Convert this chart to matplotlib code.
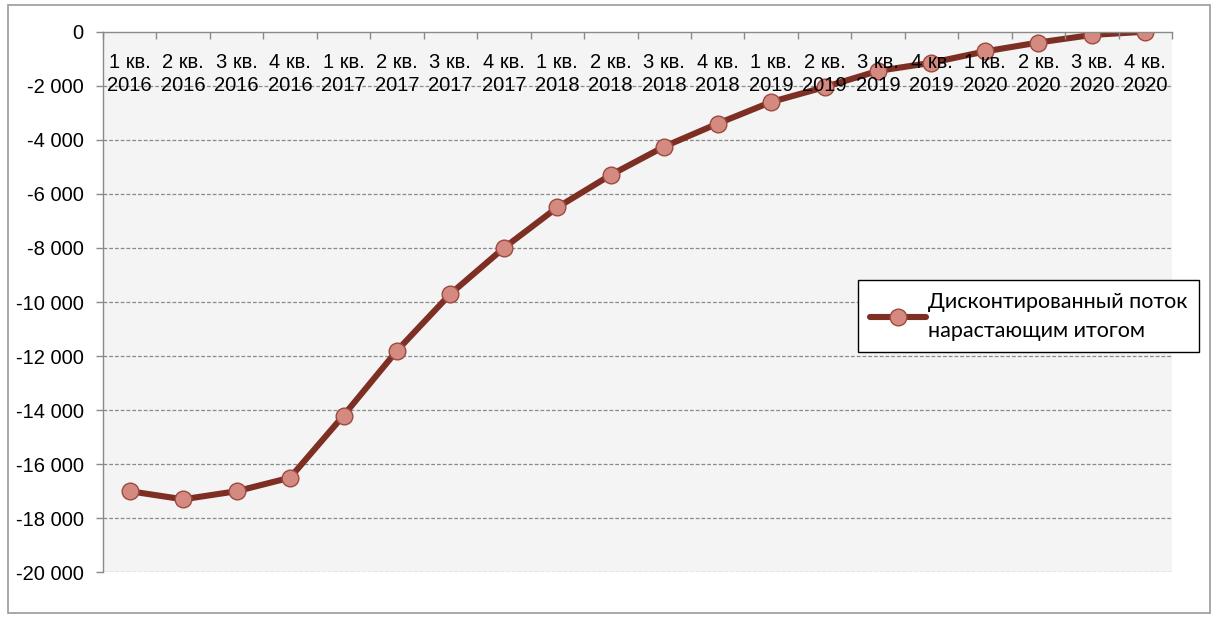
import matplotlib
matplotlib.use("Agg")
import matplotlib.pyplot as plt
from matplotlib.ticker import FuncFormatter, MultipleLocator, FixedLocator
from matplotlib.patches import Rectangle

quarters = ["1 кв.", "2 кв.", "3 кв.", "4 кв."]
years = ["2016", "2017", "2018", "2019", "2020"]
categories = [f"{q}\n{y}" for y in years for q in quarters]

cumulative_dcf = [
    -17000, -17300, -17000, -16500,
    -14200, -11800, -9700, -8000,
    -6500, -5300, -4250, -3400,
    -2600, -2050, -1450, -1150,
    -730, -400, -120, 0,
]
series_name = "Дисконтированный поток\nнарастающим итогом"

plt.rcParams["font.family"] = ["Liberation Sans", "DejaVu Sans"]

W, H = 1216, 617
fig = plt.figure(figsize=(W / 100, H / 100), dpi=100)
fig.patch.set_facecolor("white")

# outer chart frame
fig.patches.append(Rectangle((8 / W, 1 - 613 / H), (1210 - 8) / W, (613 - 5) / H,
                             transform=fig.transFigure, fill=False,
                             edgecolor="#9a9a9a", linewidth=1.2))

ax = fig.add_axes([103 / W, 1 - 572.3 / H, (1172 - 103) / W, (572.3 - 31.7) / H])
ax.set_facecolor("#f4f4f4")
ax.set_axisbelow(False)  # axis (and its labels) drawn above the series

x = list(range(len(categories)))
# series sits above the gridlines but below the category labels
line, = ax.plot(x, cumulative_dcf, color="#7e2f24", linewidth=4.4,
                marker="o", markersize=12, markerfacecolor="#d48a80",
                markeredgecolor="#9c4a40", markeredgewidth=1.0,
                solid_capstyle="round", zorder=2.2)

ax.set_xlim(-0.5, len(categories) - 0.5)
ax.set_ylim(-20000, 0)

# y axis
ax.yaxis.set_major_locator(MultipleLocator(2000))
ax.yaxis.set_major_formatter(FuncFormatter(
    lambda v, p: "0" if v == 0 else f"{int(v):,}".replace(",", " ")))
ax.tick_params(axis="y", direction="out", length=5, width=1, color="#8a8a8a",
               labelsize=14.5, pad=9, labelcolor="black")
for yv in range(-20000, 0, 2000):
    ax.axhline(yv, color="#8a8a8a", linestyle=(0, (3, 1.6)), linewidth=0.9, zorder=1)

# x axis runs along zero, labels hang below it
ax.spines["bottom"].set_position(("data", 0))
ax.xaxis.set_major_locator(FixedLocator(x))
ax.set_xticklabels(categories, fontsize=14.5, linespacing=1.3)
ax.xaxis.set_minor_locator(FixedLocator([i - 0.5 for i in range(len(categories) + 1)]))
ax.tick_params(axis="x", which="major", length=0, pad=15)
ax.tick_params(axis="x", which="minor", direction="out", length=5, width=1, color="#8a8a8a")

for side in ("top", "right"):
    ax.spines[side].set_visible(False)
for side in ("left", "bottom"):
    ax.spines[side].set_color("#8a8a8a")
    ax.spines[side].set_linewidth(1.0)

leg = fig.legend([line], [series_name], loc="upper left",
                 bbox_to_anchor=(858 / W, 1 - 280 / H),
                 prop={"family": ["Lato", "DejaVu Sans"], "size": 15.5},
                 frameon=True, fancybox=False, framealpha=1,
                 edgecolor="black", handlelength=2.6, handletextpad=0.1,
                 borderpad=0.55, borderaxespad=0)
for t in leg.get_texts():
    t.set_linespacing(1.55)
leg.get_frame().set_linewidth(1.0)

fig.savefig("out.png", dpi=100)
